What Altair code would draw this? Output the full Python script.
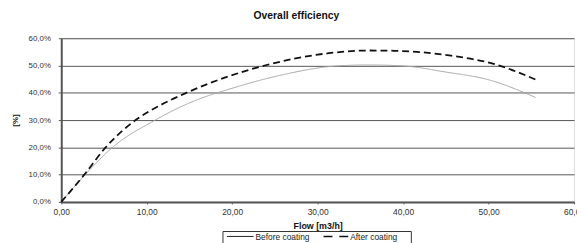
import altair as alt
import pandas as pd

series_names = ["Before coating", "After coating"]

flow_before = [0, 2.8, 6.0, 11.0, 13.4, 16.9, 19.0, 25.2, 32.5, 36.0, 40.2, 44.8, 50.2, 55.5]
eff_before = [0, 10.0, 20.0, 30.0, 34.0, 38.6, 40.7, 46.1, 49.9, 50.2, 49.8, 47.7, 44.6, 38.3]

flow_after = [0, 2.7, 5.2, 8.7, 11.5, 14.65, 23.8, 31.3, 36.0, 39.0, 45.6, 50.6, 55.9]
eff_after = [0, 10.0, 20.0, 30.0, 35.3, 40.0, 50.0, 54.5, 55.5, 55.4, 53.6, 50.6, 44.3]

tick_values = [0, 10, 20, 30, 40, 50, 60]

df = pd.concat([
    pd.DataFrame({"flow": flow_before, "eff": eff_before, "series": series_names[0],
                  "order": list(range(len(flow_before)))}),
    pd.DataFrame({"flow": flow_after, "eff": eff_after, "series": series_names[1],
                  "order": list(range(len(flow_after)))}),
])

FONT = "Liberation Sans"
COLORS = ["#a5a5a5", "#111111"]

lines = alt.Chart(df).mark_line(interpolate="monotone").encode(
    x=alt.X("flow:Q",
            scale=alt.Scale(domain=[0, 60], nice=False),
            axis=alt.Axis(values=tick_values, labelFlush=False,
                          labelExpr="replace(format(datum.value, '.2f'), '.', ',')",
                          title="Flow [m3/h]", grid=False,
                          domainColor="#555", domainWidth=2,
                          tickColor="#555", tickSize=2, labelPadding=4,
                          labelFont=FONT, labelFontSize=8.5, labelColor="#333",
                          titleFont=FONT, titleFontSize=9, titleFontWeight="bold",
                          titleColor="#111", titlePadding=5)),
    y=alt.Y("eff:Q",
            scale=alt.Scale(domain=[0, 60], nice=False),
            axis=alt.Axis(values=tick_values, labelFlush=False,
                          labelExpr="replace(format(datum.value, '.1f'), '.', ',') + '%'",
                          title="[%]", grid=True, gridColor="#555", gridWidth=1,
                          domainColor="#555", domainWidth=2,
                          tickColor="#555", tickSize=3, labelPadding=8,
                          labelFont=FONT, labelFontSize=8, labelColor="#333",
                          titleFont=FONT, titleFontSize=8, titleFontWeight="bold",
                          titleColor="#111", titlePadding=9)),
    color=alt.Color("series:N",
                    scale=alt.Scale(domain=series_names, range=COLORS),
                    legend=None),
    strokeDash=alt.StrokeDash("series:N",
                              scale=alt.Scale(domain=series_names, range=[[1, 0], [7, 4]]),
                              legend=None),
    strokeWidth=alt.StrokeWidth("series:N",
                                scale=alt.Scale(domain=series_names, range=[1, 1.8]),
                                legend=None),
    order="order:Q",
)

one = pd.DataFrame({"k": [0]})

legend_box = alt.Chart(one).mark_rect(fill="white", stroke="#333", strokeWidth=1).encode(
    x=alt.value(164), x2=alt.value(355), y=alt.value(196), y2=alt.value(215)
)
legend_line_before = alt.Chart(one).mark_rule(color="#222", strokeWidth=1).encode(
    x=alt.value(168), x2=alt.value(195), y=alt.value(201)
)
legend_line_after = alt.Chart(one).mark_rule(color="#111", strokeWidth=1.6, strokeDash=[9, 7]).encode(
    x=alt.value(266), x2=alt.value(292), y=alt.value(201)
)
legend_text_before = alt.Chart(one).mark_text(
    align="left", baseline="middle", font=FONT, fontSize=8.5, color="#222"
).encode(x=alt.value(197), y=alt.value(201.3), text=alt.value(series_names[0]))
legend_text_after = alt.Chart(one).mark_text(
    align="left", baseline="middle", font=FONT, fontSize=8.5, color="#222"
).encode(x=alt.value(293), y=alt.value(201.3), text=alt.value(series_names[1]))

chart = alt.layer(
    lines, legend_box, legend_line_before, legend_line_after,
    legend_text_before, legend_text_after
).properties(
    width=520, height=166,
    title=alt.Title("Overall efficiency", anchor="start", frame="group", dx=195, offset=13,
                    font=FONT, fontSize=10.5, fontWeight="bold", color="#111"),
    autosize=alt.AutoSizeParams(type="none"),
    padding={"left": 54, "top": 29, "right": 3, "bottom": 40},
).configure_view(
    stroke="#999", strokeWidth=1
).configure(background="white")

chart.save("out.html", embed_options={"renderer": "svg", "actions": False})
